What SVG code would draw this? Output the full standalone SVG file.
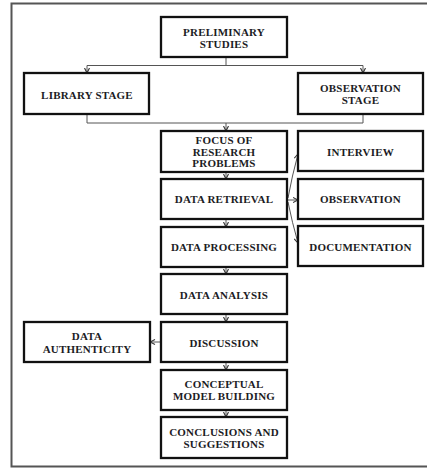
<svg xmlns="http://www.w3.org/2000/svg" width="427" height="468" viewBox="0 0 427 468">
<style>
.box{fill:#fff;stroke:#111;stroke-width:2.3}
.t{font-family:"Liberation Serif","Times New Roman",serif;font-weight:bold;font-size:11px;letter-spacing:0.2px;fill:#1c1c24;text-anchor:middle}
.c{fill:none;stroke:#555;stroke-width:1}
</style>
<defs>
<marker id="ah" viewBox="0 0 6 6" refX="5.5" refY="3" markerWidth="6" markerHeight="6" markerUnits="userSpaceOnUse" orient="auto">
<path d="M0.5,0.5 L5.5,3 L0.5,5.5" fill="none" stroke="#333" stroke-width="1.1"/>
</marker>
</defs>
<rect x="0" y="0" width="427" height="468" fill="#fff"/>
<path d="M430,3.5 H11.5 V466.5 H430" fill="none" stroke="#555" stroke-width="2"/>
<g id="connectors">
<path class="c" d="M226,57 V65.5 M87,65.5 H363"/>
<path class="c" d="M87,65.5 V73" marker-end="url(#ah)"/>
<path class="c" d="M363,65.5 V73" marker-end="url(#ah)"/>
<path class="c" d="M87,114 V123 H363 V114"/>
<path class="c" d="M226,123 V131" marker-end="url(#ah)"/>
<path class="c" d="M226,172 V179" marker-end="url(#ah)"/>
<path class="c" d="M226,219 V227" marker-end="url(#ah)"/>
<path class="c" d="M226,267 V274" marker-end="url(#ah)"/>
<path class="c" d="M226,314 V322" marker-end="url(#ah)"/>
<path class="c" d="M226,362 V370" marker-end="url(#ah)"/>
<path class="c" d="M226,410 V417" marker-end="url(#ah)"/>
<path class="c" d="M161,342 H150" marker-end="url(#ah)"/>
<path class="c" d="M288,198 Q292,176 298,154" marker-end="url(#ah)"/>
<path class="c" d="M288,200 H298" marker-end="url(#ah)"/>
<path class="c" d="M288,202 Q292,222 298,243" marker-end="url(#ah)"/>
</g>
<g id="preliminary"><rect class="box" x="161" y="17" width="126" height="40"/><text class="t" x="224" y="35.5">PRELIMINARY</text><text class="t" x="224" y="47.5">STUDIES</text></g>
<g id="library"><rect class="box" x="24" y="73" width="125" height="41"/><text class="t" x="87" y="98.5">LIBRARY STAGE</text></g>
<g id="observation-stage"><rect class="box" x="298" y="73" width="125" height="41"/><text class="t" x="360.5" y="92">OBSERVATION</text><text class="t" x="360.5" y="103.5">STAGE</text></g>
<g id="focus"><rect class="box" x="161" y="131" width="126" height="41"/><text class="t" x="224" y="143.5">FOCUS OF</text><text class="t" x="224" y="155.5">RESEARCH</text><text class="t" x="224" y="167">PROBLEMS</text></g>
<g id="interview"><rect class="box" x="298" y="131" width="125" height="40"/><text class="t" x="360.5" y="156">INTERVIEW</text></g>
<g id="retrieval"><rect class="box" x="161" y="179" width="126" height="40"/><text class="t" x="224" y="203">DATA RETRIEVAL</text></g>
<g id="observation"><rect class="box" x="298" y="179" width="125" height="40"/><text class="t" x="360.5" y="203">OBSERVATION</text></g>
<g id="processing"><rect class="box" x="161" y="227" width="126" height="40"/><text class="t" x="224" y="251">DATA PROCESSING</text></g>
<g id="documentation"><rect class="box" x="298" y="226" width="125" height="40"/><text class="t" x="360.5" y="250.5">DOCUMENTATION</text></g>
<g id="analysis"><rect class="box" x="161" y="274" width="126" height="40"/><text class="t" x="224" y="298.5">DATA ANALYSIS</text></g>
<g id="discussion"><rect class="box" x="161" y="322" width="126" height="40"/><text class="t" x="224" y="347">DISCUSSION</text></g>
<g id="authenticity"><rect class="box" x="24" y="322" width="126" height="40"/><text class="t" x="87" y="340">DATA</text><text class="t" x="87" y="352.5">AUTHENTICITY</text></g>
<g id="conceptual"><rect class="box" x="161" y="370" width="126" height="40"/><text class="t" x="224" y="388">CONCEPTUAL</text><text class="t" x="224" y="400">MODEL BUILDING</text></g>
<g id="conclusions"><rect class="box" x="161" y="417" width="126" height="41"/><text class="t" x="224" y="436">CONCLUSIONS AND</text><text class="t" x="224" y="448">SUGGESTIONS</text></g>
</svg>
